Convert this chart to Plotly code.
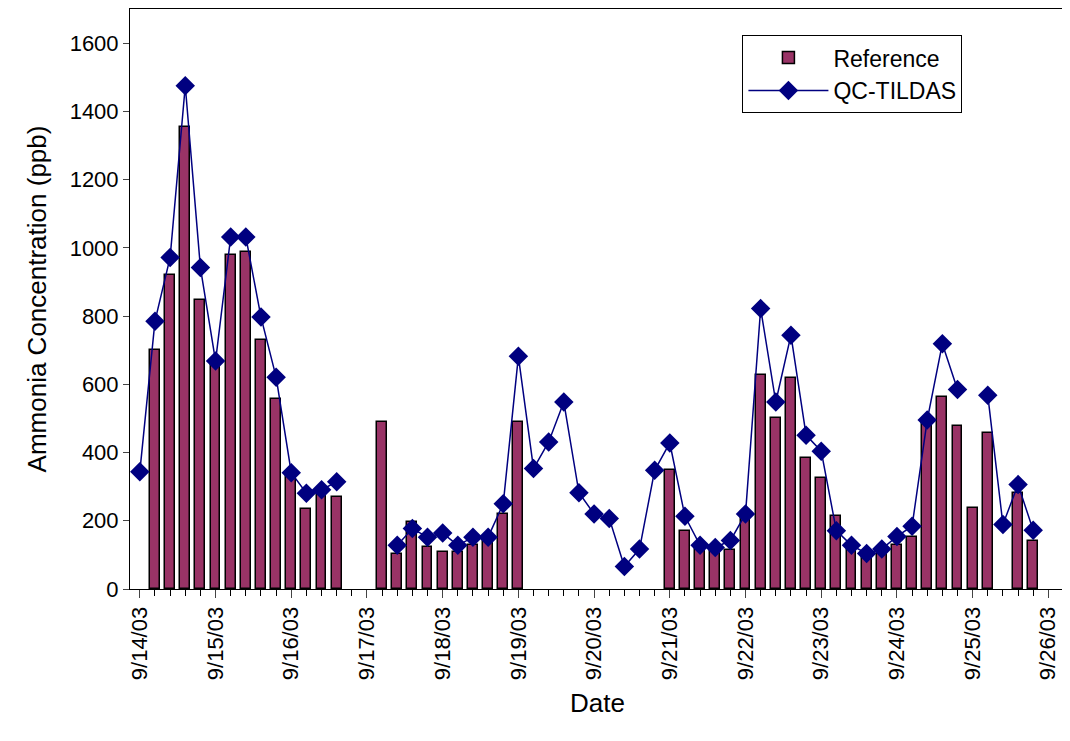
import pandas as pd
import plotly.graph_objects as go

# one sample every 0.2 day starting 9/14/03 00:00 (slot index)
slots = list(range(60))

reference = [None, 701, 919, 1355, 847, 666, 979, 987, 731, 556, 336, 235, 281, 271,
             None, None, 489, 104, 196, 123, 109, 109, 128, 140, 220, 489,
             None, None, None, None, None, None, None, None, None,
             348, 169, 125, 115, 115, 211, 627, 500, 617, 384, 324, 213, 125, 101, 110,
             128, 152, 487, 562, 477, 238, 457, None, 282, 140]

qc_tildas = [344, 785, 972, 1475, 942, 668, 1032, 1032, 797, 621, 341, 281, 291, 314,
             None, None, None, 128, 177, 152, 164, 128, 152, 152, 250, 682,
             353, 431, 548, 282, 220, 207, 66, 117, 348,
             428, 213, 128, 122, 142, 220, 822, 548, 744, 451, 404, 171, 128, 104, 117,
             154, 184, 495, 719, 585, None, 568, 189, 306, 172]

times = pd.Timestamp("2003-09-14") + pd.to_timedelta([s * 0.2 for s in slots], unit="D")
tick_days = pd.date_range("2003-09-14", "2003-09-26", freq="D")

fig = go.Figure()
fig.add_trace(go.Bar(x=times, y=reference, name="Reference",
                     width=0.13 * 86400000,
                     marker=dict(color="#993366", line=dict(color="black", width=1.5))))
fig.add_trace(go.Scatter(x=times, y=qc_tildas, name="QC-TILDAS", mode="lines+markers",
                         connectgaps=False,
                         line=dict(color="#000080", width=1.5),
                         marker=dict(symbol="diamond", size=15, color="#000080")))

fig.update_layout(
    width=1070, height=741,
    paper_bgcolor="white", plot_bgcolor="white",
    margin=dict(l=122, r=13, t=1, b=160, autoexpand=False),
    font=dict(family="Liberation Sans, Arial", size=22, color="black"),
    bargap=0,
    legend=dict(x=0.655, y=0.955, xanchor="left", yanchor="top",
                bordercolor="black", borderwidth=1, font=dict(size=23),
                itemwidth=80, tracegroupgap=2),
)
fig.update_xaxes(
    title_text="Date", title_standoff=14,
    range=[tick_days[0] - pd.Timedelta(days=0.13), tick_days[-1] + pd.Timedelta(days=0.22)],
    tickvals=tick_days, ticktext=[d.strftime("%-m/%-d/%y") for d in tick_days],
    tickangle=-90, ticks="outside", ticklen=8, showline=True, linecolor="black",
    mirror=True, showgrid=False,
    minor=dict(dtick=0.2 * 86400000, ticks="outside", ticklen=6, tickcolor="black"),
)
fig.update_yaxes(
    title_text="Ammonia Concentration (ppb)", range=[0, 1700], dtick=200,
    ticks="outside", ticklen=6, showline=True, linecolor="black", mirror=True,
    showgrid=False, zeroline=False,
)

fig.write_html("out.html")
